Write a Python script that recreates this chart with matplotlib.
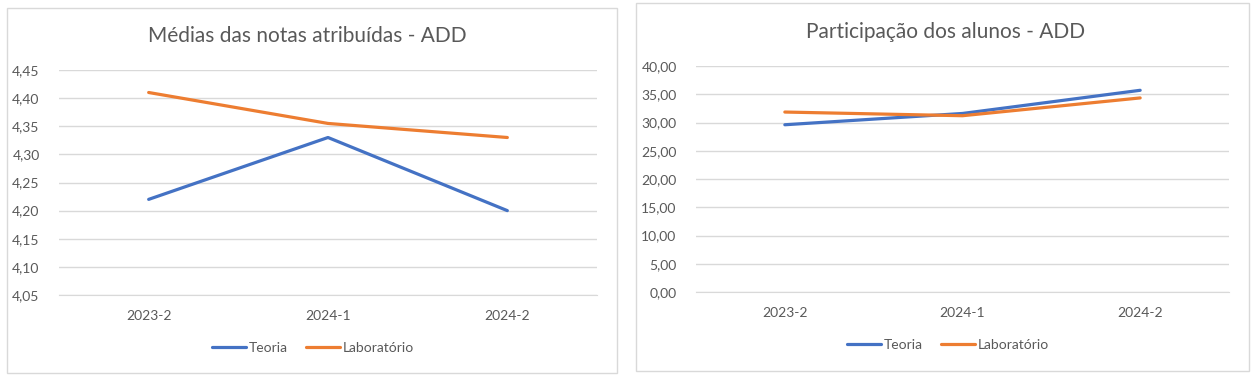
import matplotlib
matplotlib.use("Agg")
import matplotlib.pyplot as plt
from matplotlib.ticker import FuncFormatter, MultipleLocator
from matplotlib.patches import Rectangle

plt.rcParams['font.family'] = ['Lato', 'DejaVu Sans']

categories = ["2023-2", "2024-1", "2024-2"]
series_names = ["Teoria", "Laboratório"]

notas_teoria = [4.22, 4.33, 4.20]
notas_lab = [4.41, 4.355, 4.33]

part_teoria = [29.6, 31.6, 35.7]
part_lab = [31.85, 31.2, 34.35]

title_left = "Médias das notas atribuídas - ADD"
title_right = "Participação dos alunos - ADD"

BLUE = "#4472C4"
ORANGE = "#ED7D31"
GRID = "#D9D9D9"
TEXT = "#595959"

W, H = 1259, 380
fig = plt.figure(figsize=(W / 100, H / 100), dpi=100)


def fx(px):
    return px / W


def fy(py):
    return (H - py) / H


# chart borders
for (x0, y0, x1, y1) in [(7, 8, 617, 373), (636, 3, 1249, 371)]:
    fig.patches.append(Rectangle((fx(x0), fy(y1)), fx(x1 - x0), (y1 - y0) / H,
                                 transform=fig.transFigure, fill=False,
                                 edgecolor=GRID, linewidth=1.0))


def make_chart(ax_px, ylim, step, fmt, teoria, lab, title, title_px, legend_px):
    x0, x1, ytop, ybot = ax_px
    ax = fig.add_axes([fx(x0), fy(ybot), fx(x1 - x0), (ybot - ytop) / H])
    xs = list(range(len(categories)))
    ax.plot(xs, teoria, color=BLUE, lw=2.3, solid_capstyle='round', label=series_names[0], zorder=3)
    ax.plot(xs, lab, color=ORANGE, lw=2.3, solid_capstyle='round', label=series_names[1], zorder=3)
    ax.set_xlim(-0.5, len(categories) - 0.5)
    ax.set_ylim(*ylim)
    ax.yaxis.set_major_locator(MultipleLocator(step))
    ax.yaxis.set_major_formatter(FuncFormatter(lambda v, p: fmt.format(v).replace('.', ',')))
    ax.set_xticks(xs)
    ax.set_xticklabels(categories)
    ax.grid(axis='y', color=GRID, linewidth=1.0)
    ax.set_axisbelow(True)
    for s in ['top', 'right', 'left']:
        ax.spines[s].set_visible(False)
    ax.spines['bottom'].set_color(GRID)
    ax.tick_params(axis='both', length=0, colors=TEXT, labelsize=10)
    ax.tick_params(axis='y', pad=14)
    ax.tick_params(axis='x', pad=11)
    fig.text(fx(title_px[0]), fy(title_px[1]), title, ha='center', va='center',
             fontsize=15, color=TEXT)
    leg = ax.legend(loc='center', bbox_to_anchor=(fx(legend_px[0]), fy(legend_px[1])),
                    bbox_transform=fig.transFigure, ncol=2, frameon=False,
                    fontsize=10, handlelength=2.45, handletextpad=0.2, columnspacing=1.3)
    for t in leg.get_texts():
        t.set_color(TEXT)
    return ax


make_chart((59, 597, 70, 295), (4.05, 4.45), 0.05, "{:.2f}",
           notas_teoria, notas_lab, title_left, (307, 36), (313, 348))
make_chart((696, 1229, 66, 292), (0, 40), 5, "{:.2f}",
           part_teoria, part_lab, title_right, (946, 32), (948, 345))

fig.savefig("out.png", dpi=100)
